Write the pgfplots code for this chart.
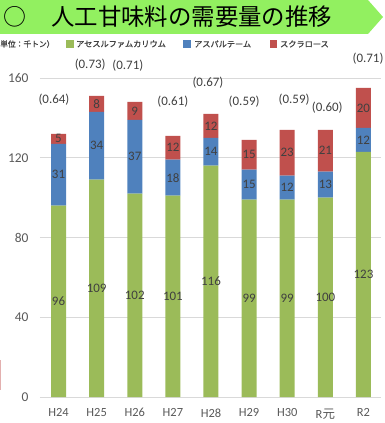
\documentclass[border=0pt]{standalone}
\usepackage{fontspec}
\setmainfont{Carlito}
\newfontfamily\jp{Noto Sans CJK JP}
\newfontfamily\jpb[FakeBold=1.2]{Noto Sans CJK JP}
\usepackage{pgfplots}
\pgfplotsset{compat=1.18}
\usepackage{pgfplotstable}
\definecolor{cgreen}{RGB}{155,187,89}
\definecolor{cblue}{RGB}{79,129,189}
\definecolor{cred}{RGB}{192,80,77}
\definecolor{banner}{RGB}{146,240,96}
\definecolor{txt}{RGB}{64,64,64}
\definecolor{tickc}{RGB}{89,89,89}
\definecolor{gridc}{RGB}{217,217,217}

\pgfplotstableread{
x a b c
0 96 31 5
1 109 34 8
2 102 37 9
3 101 18 12
4 116 14 12
5 99 15 15
6 99 12 23
7 100 13 21
8 123 12 20
}\data
\pgfplotstableread{
x y lbl
-0.12 149 (0.64)
0.83 166.5 (0.73)
1.82 166 (0.71)
3.0 148 (0.61)
3.92 157.5 (0.67)
4.87 148 (0.59)
6.18 149 (0.59)
7.05 145 (0.60)
8.12 169.5 (0.71)
}\ratio

\pgfplotsset{base/.style={scale only axis, width=341bp, height=319bp,
  xmin=-0.486, xmax=8.46, ymin=0, ymax=160, at={(40bp,26bp)}, anchor=south west, clip=false}}

\begin{document}
\begin{tikzpicture}[x=1bp,y=1bp]
\path[use as bounding box] (0,0) rectangle (385,423);
% banner
\fill[banner] (0,423) -- (368,423) -- (383,406) -- (368,389) -- (0,389) -- cycle;
\node[font=\jp\fontsize{23}{23}\selectfont, inner sep=0] at (15,406) {○};
\node[anchor=west, font=\jp\fontsize{23.5}{23.5}\selectfont, inner sep=0] at (51,406) {人工甘味料の需要量の推移};
% legend
\node[anchor=west, font=\jpb\fontsize{7.8}{7.8}\selectfont, text=txt, inner sep=0] at (0,379) {単位：千トン）};
\fill[cgreen] (66,375) rectangle (74,383);
\node[anchor=west, font=\jpb\fontsize{8.2}{8.2}\selectfont, text=txt, inner sep=0] at (76,379) {アセスルファムカリウム};
\fill[cblue] (183,375) rectangle (191,383);
\node[anchor=west, font=\jpb\fontsize{8.2}{8.2}\selectfont, text=txt, inner sep=0] at (194,379) {アスパルテーム};
\fill[cred] (270,375) rectangle (277,383);
\node[anchor=west, font=\jpb\fontsize{8.2}{8.2}\selectfont, text=txt, inner sep=0] at (280,379) {スクラロース};
\draw[cred!45, line width=1bp] (0.5,33) -- (0.5,63);

\begin{axis}[base, ybar stacked, bar width=15bp,
  axis x line*=bottom, axis y line*=left,
  x axis line style={draw=gridc, line width=0.8pt, -},
  y axis line style={draw=none},
  major tick length=0pt,
  ymajorgrids, grid style={gridc, line width=0.8pt},
  ytick={0,40,80,120,160},
  xtick={0,1,2,3,4,5,6,7,8},
  xticklabels={H24,H25,H26,H27,H28,H29,H30,R{\jp 元},R2},
  /pgf/number format/assume math mode=true,
  yticklabel style={font=\fontsize{13.5}{13.5}\selectfont, text=tickc, xshift=-8bp},
  xticklabel style={font=\fontsize{12.5}{12.5}\selectfont, text=tickc, yshift=-8bp},
  nodes near coords, point meta=explicit symbolic,
  every node near coord/.append style={font=\fontsize{13}{13}\selectfont, text=txt, anchor=center},
]
\addplot[fill=cgreen, draw=none] table[x=x, y=a, meta=a]{\data};
\addplot[fill=cblue, draw=none] table[x=x, y=b, meta=b]{\data};
\addplot[fill=cred, draw=none] table[x=x, y=c, meta=c]{\data};
\end{axis}

\begin{axis}[base, hide axis]
\addplot[draw=none, mark=none, nodes near coords, point meta=explicit symbolic,
  every node near coord/.append style={anchor=center, font=\fontsize{13}{13}\selectfont, text=txt}]
  table[x=x, y=y, meta=lbl]{\ratio};
\end{axis}
\end{tikzpicture}
\end{document}
